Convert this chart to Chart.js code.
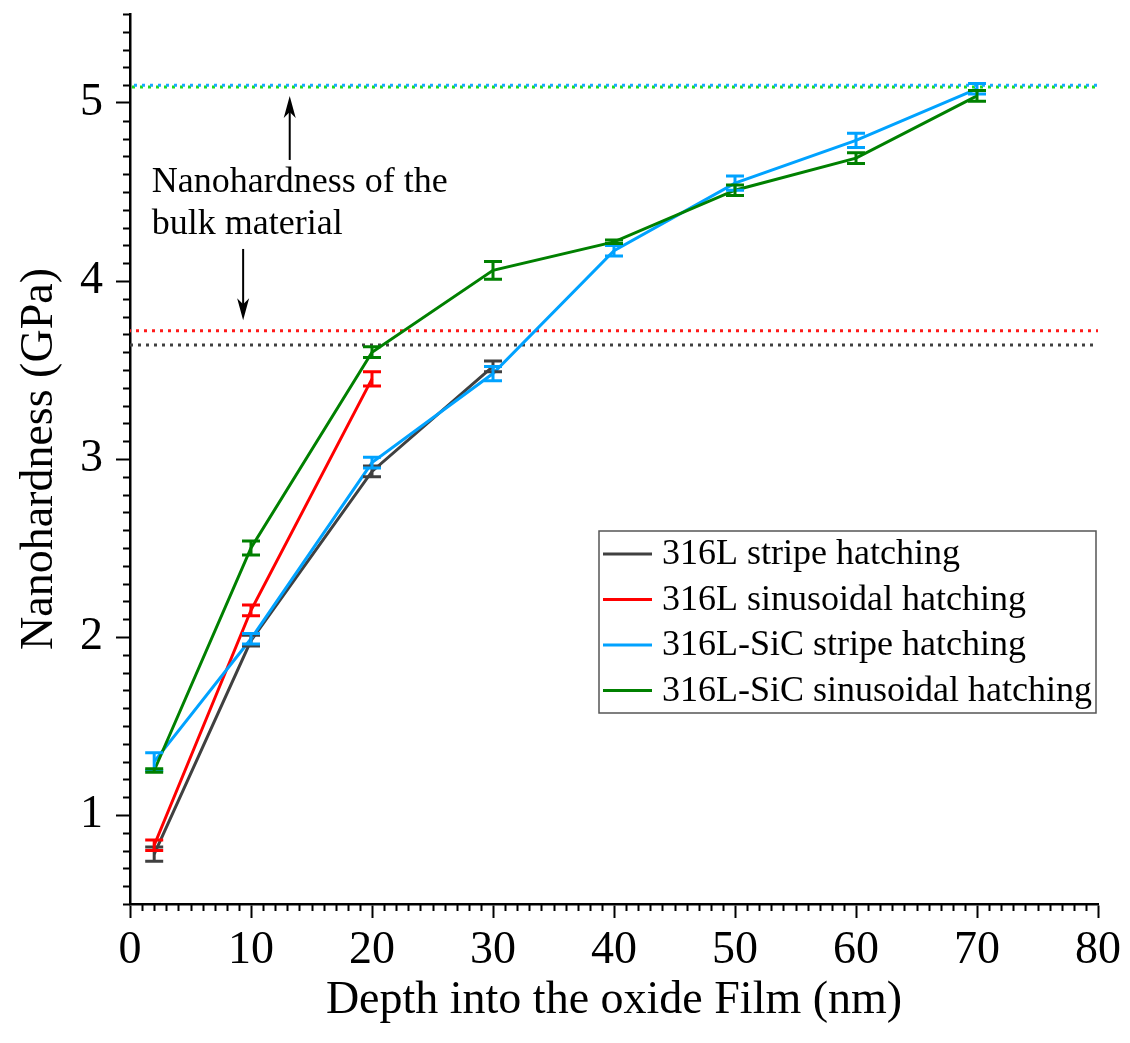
<!DOCTYPE html>
<html>
<head>
<meta charset="utf-8">
<title>Nanohardness</title>
<script src="https://cdn.jsdelivr.net/npm/chart.js@4.4.1/dist/chart.umd.min.js"></script>
<style>
    html, body { margin: 0; padding: 0; background: #fff; }
    #caixa { position: relative; width: 1130px; height: 1043px; }
</style>
</head>
<body>
<div id="caixa"><canvas id="graficoDureza"></canvas></div>
<script>
// Profundidade no filme de óxido (nm)
const profundidade = [2, 10, 20, 30, 40, 50, 60, 70];

// Nomes e cores das séries
const rotulos = ['316L stripe hatching', '316L sinusoidal hatching', '316L-SiC stripe hatching', '316L-SiC sinusoidal hatching'];
const cores = ['#404040', '#ff0000', '#00a2ff', '#008000'];

// Nanodureza (GPa) e desvio de cada série
const duraStripe = [0.78, 1.98, 2.93, 3.52];
const erroStripe = [0.04, 0.03, 0.03, 0.03];
const duraSinusoidal = [0.83, 2.15, 3.45];
const erroSinusoidal = [0.03, 0.03, 0.04];
const duraSicStripe = [1.30, 1.99, 2.98, 3.48, 4.17, 4.55, 4.79, 5.08];
const erroSicStripe = [0.05, 0.03, 0.03, 0.04, 0.03, 0.04, 0.04, 0.03];
const duraSicSinusoidal = [1.25, 2.50, 3.60, 4.06, 4.22, 4.51, 4.69, 5.04];
const erroSicSinusoidal = [0.01, 0.04, 0.03, 0.05, 0.01, 0.03, 0.03, 0.03];

// Nanodureza do material bulk (linhas pontilhadas)
const durezaBulk = [3.64, 3.72, 5.10, 5.09];
const coresBulk = ['#404040', '#ff1a1a', '#1aa8ff', '#1fdd1f'];

// Marcas dos eixos
const ticksX = [0, 10, 20, 30, 40, 50, 60, 70, 80];
const ticksY = [1, 2, 3, 4, 5];

const fonteSerif = "'Liberation Serif', 'Times New Roman', serif";
Chart.defaults.font.family = fonteSerif;
Chart.defaults.color = '#000';

const valores = [duraStripe, duraSinusoidal, duraSicStripe, duraSicSinusoidal];
const erros = [erroStripe, erroSinusoidal, erroSicStripe, erroSicSinusoidal];

const datasetsSeries = valores.map((serie, i) => ({
    label: rotulos[i],
    data: serie.map((v, j) => ({ x: profundidade[j], y: v })),
    erros: erros[i],
    borderColor: cores[i],
    borderWidth: 3,
    pointRadius: 0,
    tension: 0,
    fill: false,
    order: 4 - i
}));

const datasetsBulk = durezaBulk.map((v, i) => ({
    label: 'bulk ' + i,
    data: [{ x: ticksX[0], y: v }, { x: ticksX[ticksX.length - 1], y: v }],
    borderColor: coresBulk[i],
    borderWidth: 3,
    borderDash: [3, 5],
    borderDashOffset: i * 2,
    pointRadius: 0,
    fill: false,
    order: 10 + i
}));

// Barras de erro com tampas
const barrasErro = {
    id: 'barrasErro',
    afterDatasetsDraw(chart) {
        const { ctx, scales: { x, y } } = chart;
        ctx.save();
        ctx.lineWidth = 3;
        chart.data.datasets.forEach(ds => {
            if (!ds.erros) return;
            ctx.strokeStyle = ds.borderColor;
            ds.data.forEach((p, j) => {
                const px = x.getPixelForValue(p.x);
                const yAlto = y.getPixelForValue(p.y + ds.erros[j]);
                const yBaixo = y.getPixelForValue(p.y - ds.erros[j]);
                ctx.beginPath();
                ctx.moveTo(px, yAlto); ctx.lineTo(px, yBaixo);
                ctx.moveTo(px - 9, yAlto); ctx.lineTo(px + 9, yAlto);
                ctx.moveTo(px - 9, yBaixo); ctx.lineTo(px + 9, yBaixo);
                ctx.stroke();
            });
        });
        ctx.restore();
    }
};

// Traços menores dos eixos
const tracosMenores = {
    id: 'tracosMenores',
    afterDraw(chart) {
        const { ctx, scales: { x, y }, chartArea } = chart;
        ctx.save();
        ctx.strokeStyle = '#000';
        ctx.lineWidth = 2;
        ctx.beginPath();
        for (let v = 0; v <= 80; v++) {
            if (v % 10 === 0) continue;
            const px = Math.round(x.getPixelForValue(v)) + 0.5;
            ctx.moveTo(px, chartArea.bottom);
            ctx.lineTo(px, chartArea.bottom + 7);
        }
        for (let d = 5; d <= 55; d++) {
            if (d % 10 === 0) continue;
            const py = Math.round(y.getPixelForValue(d / 10)) + 0.5;
            ctx.moveTo(chartArea.left, py);
            ctx.lineTo(chartArea.left - 7, py);
        }
        ctx.stroke();
        ctx.restore();
    }
};

function desenharSeta(ctx, x, yInicio, yPonta) {
    const dir = Math.sign(yPonta - yInicio);
    ctx.beginPath();
    ctx.moveTo(x, yInicio);
    ctx.lineTo(x, yPonta - dir * 14);
    ctx.stroke();
    ctx.beginPath();
    ctx.moveTo(x, yPonta);
    ctx.lineTo(x - 6, yPonta - dir * 22);
    ctx.lineTo(x, yPonta - dir * 16);
    ctx.lineTo(x + 6, yPonta - dir * 22);
    ctx.closePath();
    ctx.fill();
}

// Texto e setas indicando a dureza do bulk
const anotacao = {
    id: 'anotacao',
    afterDraw(chart) {
        const { ctx, scales: { x, y } } = chart;
        ctx.save();
        ctx.fillStyle = '#000';
        ctx.strokeStyle = '#000';
        ctx.lineWidth = 2;
        ctx.font = '36px ' + fonteSerif;
        ctx.textBaseline = 'alphabetic';
        ctx.textAlign = 'left';
        ctx.fillText('Nanohardness of the', x.getPixelForValue(1.8), y.getPixelForValue(4.5));
        ctx.fillText('bulk material', x.getPixelForValue(1.8), y.getPixelForValue(4.265));
        desenharSeta(ctx, x.getPixelForValue(13.2), y.getPixelForValue(4.68), y.getPixelForValue(5.04));
        desenharSeta(ctx, x.getPixelForValue(9.35), y.getPixelForValue(4.18), y.getPixelForValue(3.78));
        ctx.restore();
    }
};

// Legenda em caixa dentro da área do gráfico
const legendaCaixa = {
    id: 'legendaCaixa',
    afterDraw(chart) {
        const { ctx, chartArea } = chart;
        const esq = chartArea.right - 499, topo = chartArea.top + 517;
        const larg = 497, alt = 182;
        ctx.save();
        ctx.fillStyle = '#fff';
        ctx.fillRect(esq, topo, larg, alt);
        ctx.strokeStyle = '#555';
        ctx.lineWidth = 1.5;
        ctx.strokeRect(esq, topo, larg, alt);
        ctx.font = '36px ' + fonteSerif;
        ctx.textBaseline = 'middle';
        ctx.textAlign = 'left';
        rotulos.forEach((r, i) => {
            const yLinha = topo + 23 + i * 45.5;
            ctx.strokeStyle = cores[i];
            ctx.lineWidth = 3;
            ctx.beginPath();
            ctx.moveTo(esq + 4, yLinha);
            ctx.lineTo(esq + 53, yLinha);
            ctx.stroke();
            ctx.fillStyle = '#000';
            ctx.fillText(r, esq + 63, yLinha + 1);
        });
        ctx.restore();
    }
};

const ctx = document.getElementById('graficoDureza').getContext('2d');

new Chart(ctx, {
    type: 'line',
    data: {
        datasets: [...datasetsSeries, ...datasetsBulk]
    },
    options: {
        responsive: true,
        maintainAspectRatio: false,
        animation: false,
        layout: { padding: { top: 14, right: 32, left: 0, bottom: 0 } },
        plugins: {
            legend: { display: false },
            tooltip: { enabled: false }
        },
        scales: {
            x: {
                type: 'linear',
                min: 0,
                max: 80,
                afterBuildTicks: s => { s.ticks = ticksX.map(v => ({ value: v })); },
                ticks: {
                    color: '#000',
                    font: { size: 46 },
                    padding: 5,
                    maxRotation: 0
                },
                grid: {
                    drawOnChartArea: false,
                    drawTicks: true,
                    tickLength: 14,
                    tickWidth: 2,
                    tickColor: '#000'
                },
                border: { display: true, color: '#000', width: 2.5 },
                title: {
                    display: true,
                    text: 'Depth into the oxide Film (nm)',
                    color: '#000',
                    font: { size: 46 },
                    padding: { top: 0, bottom: 14 }
                },
                afterFit: s => { s.height = 139; s.paddingLeft = 0; s.paddingRight = 0; }
            },
            y: {
                type: 'linear',
                min: 0.5,
                max: 5.5,
                afterBuildTicks: s => { s.ticks = ticksY.map(v => ({ value: v })); },
                ticks: {
                    color: '#000',
                    font: { size: 46 },
                    padding: 13
                },
                grid: {
                    drawOnChartArea: false,
                    drawTicks: true,
                    tickLength: 14,
                    tickWidth: 2,
                    tickColor: '#000'
                },
                border: { display: true, color: '#000', width: 2.5 },
                title: {
                    display: true,
                    text: 'Nanohardness (GPa)',
                    color: '#000',
                    font: { size: 46 },
                    padding: { top: 12, bottom: 0 }
                },
                afterFit: s => { s.width = 130; s.paddingTop = 0; s.paddingBottom = 0; }
            }
        }
    },
    plugins: [barrasErro, tracosMenores, anotacao, legendaCaixa]
});
</script>
</body>
</html>
